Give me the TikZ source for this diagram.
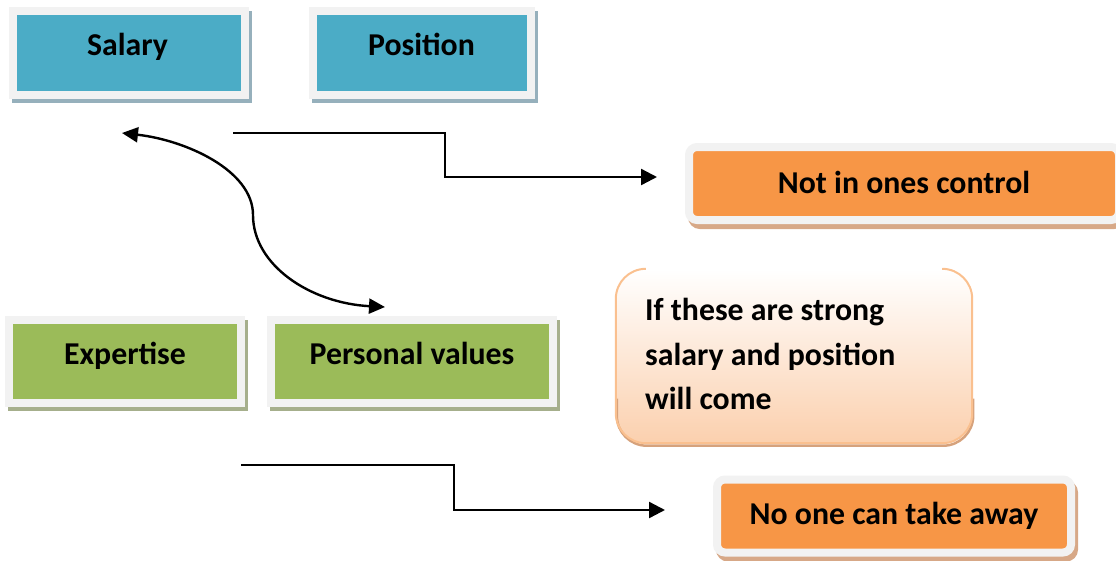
\documentclass[tikz,border=0pt]{standalone}
\usepackage{fontspec}
\setmainfont{Carlito}
\usetikzlibrary{arrows.meta}
\definecolor{boxblue}{RGB}{75,172,198}
\definecolor{boxgreen}{RGB}{155,187,89}
\definecolor{boxorange}{RGB}{247,150,70}
\definecolor{framegray}{RGB}{242,242,242}
\definecolor{shblue}{RGB}{150,176,188}
\definecolor{shgreen}{RGB}{166,175,140}
\definecolor{shorange}{RGB}{215,168,135}
\definecolor{noteedge}{RGB}{250,192,143}
\definecolor{notefill}{RGB}{251,208,174}
\definecolor{noteshadow}{RGB}{214,162,124}
\begin{document}
\begin{tikzpicture}[x=1pt,y=-1pt,
  framed/.style={draw=framegray, line width=8pt, inner sep=0pt, outer sep=0pt},
  bluebox/.style={framed, fill=boxblue, minimum height=84pt,
    preaction={draw=shblue, fill=shblue, line width=8pt, transform canvas={shift={(3pt,-4pt)}}}},
  greenbox/.style={framed, fill=boxgreen, minimum height=83pt,
    preaction={draw=shgreen, fill=shgreen, line width=8pt, transform canvas={shift={(3pt,-4pt)}}}},
  orangebox/.style={framed, fill=boxorange, minimum height=73pt, rounded corners=8pt,
    preaction={draw=shorange, fill=shorange, line width=8pt, transform canvas={shift={(3pt,-5pt)}}}},
  lbl/.style={font=\bfseries\fontsize{31.8}{38}\selectfont, inner sep=0pt, anchor=base},
  notelbl/.style={font=\bfseries\fontsize{31.8}{38}\selectfont, inner sep=0pt, anchor=base west},
  conn/.style={line width=2.4pt, -{Triangle[length=16pt,width=16pt]}},
  dconn/.style={line width=2.4pt, {Triangle[length=16pt,width=15pt]}-{Triangle[length=16pt,width=15pt]}}
]
\useasboundingbox (0,0) rectangle (1116,560);
\clip (0,0) rectangle (1116,560);

% boxes
\node[bluebox, minimum width=232pt] (salary) at (129,53) {};
\node[bluebox, minimum width=218pt] (position) at (422,53) {};
\node[greenbox, minimum width=232pt] (expertise) at (125,361.5) {};
\node[greenbox, minimum width=282pt] (personal) at (412,361.5) {};
\node[orangebox, minimum width=430pt] (control) at (904,183.5) {};
\node[orangebox, minimum width=354pt] (away) at (894,516) {};

% note box
\node[minimum width=356pt, minimum height=174pt, rounded corners=30pt, inner sep=0pt,
  top color=white, bottom color=notefill] (note) at (794,356) {};
\draw[noteshadow, line width=2.5pt, rounded corners=30pt, transform canvas={shift={(1pt,-2.5pt)}}]
  ([yshift=-40pt]note.west) -- (note.south west) -- (note.south east) -- ([yshift=-40pt]note.east);
\draw[noteedge, line width=2pt, rounded corners=30pt]
  ([xshift=30pt]note.north west) -- (note.north west) -- (note.south west) --
  (note.south east) -- (note.north east) -- ([xshift=-30pt]note.north east);

% labels
\node[lbl] (salaryT) at (127.5,55) {Salary};
\node[lbl] (positionT) at (421.5,55) {Position};
\node[lbl] (expertiseT) at (125,364) {Expertise};
\node[lbl] (personalT) at (412,364) {Personal values};
\node[lbl] (controlT) at (904,193) {Not in ones control};
\node[lbl] (awayT) at (894,524) {No one can take away};
\node[notelbl] (note1) at (645,320) {If these are strong};
\node[notelbl] (note2) at (645,365) {salary and position};
\node[notelbl] (note3) at (645,409) {will come};

% connectors
\coordinate (a1) at (233,133);
\coordinate (k1) at (445,155);
\coordinate (a2) at (657,177);
\draw[conn] (a1) -| (k1) |- (a2);

\coordinate (b1) at (241,465);
\coordinate (k2) at (454,488);
\coordinate (b2) at (665,510);
\draw[conn] (b1) -| (k2) |- (b2);

\coordinate (c1) at (122,133);
\coordinate (cm) at (253,215);
\coordinate (c2) at (385,307);
\draw[dconn] (c1) .. controls (185,140) and (253,170) .. (cm) .. controls (253,265) and (310,303) .. (c2);
\end{tikzpicture}
\end{document}
